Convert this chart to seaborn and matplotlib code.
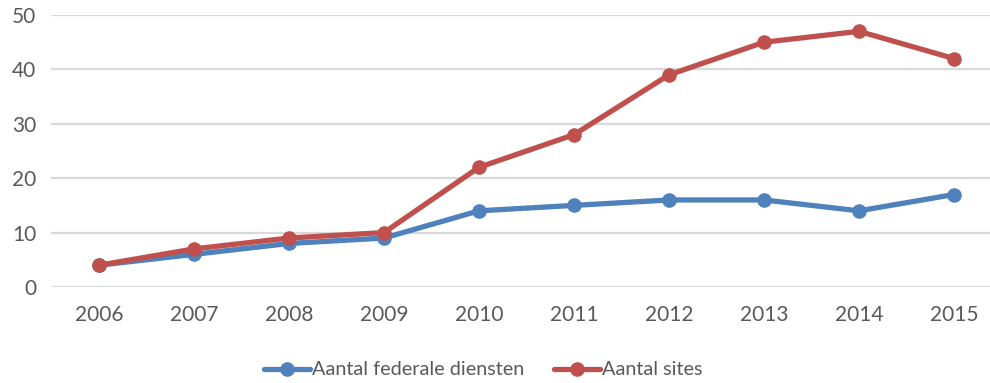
import matplotlib
matplotlib.use("Agg")
import matplotlib.pyplot as plt
import seaborn as sns
import pandas as pd

years = [2006, 2007, 2008, 2009, 2010, 2011, 2012, 2013, 2014, 2015]
federale_diensten = [4, 6, 8, 9, 14, 15, 16, 16, 14, 17]
sites = [4, 7, 9, 10, 22, 28, 39, 45, 47, 42]
series_names = ["Aantal federale diensten", "Aantal sites"]
colors = ["#4F81BD", "#C0504D"]
y_ticks = [0, 10, 20, 30, 40, 50]

sns.set_theme(style="white")
plt.rcParams["font.family"] = ["Lato", "DejaVu Sans"]

df = pd.DataFrame({
    "jaar": years * 2,
    "waarde": federale_diensten + sites,
    "reeks": [series_names[0]] * len(years) + [series_names[1]] * len(years),
})

fig = plt.figure(figsize=(9.9, 3.83), dpi=100)
ax = fig.add_axes([0.052, 0.2507, 0.9596, 0.7101])

sns.lineplot(
    data=df, x="jaar", y="waarde", hue="reeks", hue_order=series_names,
    palette=colors, marker="o", markersize=10.5, markeredgewidth=0,
    linewidth=3.8, ax=ax, legend=False, zorder=3,
)

ax.set_xlim(years[0] - 0.5, years[-1] + 0.5)
ax.set_ylim(y_ticks[0], y_ticks[-1])
ax.set_xticks(years)
ax.set_xticklabels([str(y) for y in years])
ax.set_yticks(y_ticks)
ax.set_xlabel("")
ax.set_ylabel("")
ax.grid(axis="y", color="#D9D9D9", linewidth=1.6, zorder=0)
ax.grid(axis="x", visible=False)
for s in ax.spines.values():
    s.set_visible(False)
ax.tick_params(axis="both", length=0, labelsize=15, colors="#595959")
ax.tick_params(axis="x", pad=13)
ax.tick_params(axis="y", pad=11)
for lbl in ax.get_yticklabels():
    lbl.set_horizontalalignment("right")

handles = [
    plt.Line2D([], [], color=c, linewidth=3.8, marker="o", markersize=10.5,
               markeredgewidth=0)
    for c in colors
]
leg = fig.legend(
    handles, series_names, loc="center", bbox_to_anchor=(0.488, 0.034),
    ncol=2, frameon=False, fontsize=14.3, handlelength=2.3,
    handletextpad=0.1, columnspacing=1.5,
)
for t in leg.get_texts():
    t.set_color("#595959")

fig.savefig("out.png", dpi=100)
